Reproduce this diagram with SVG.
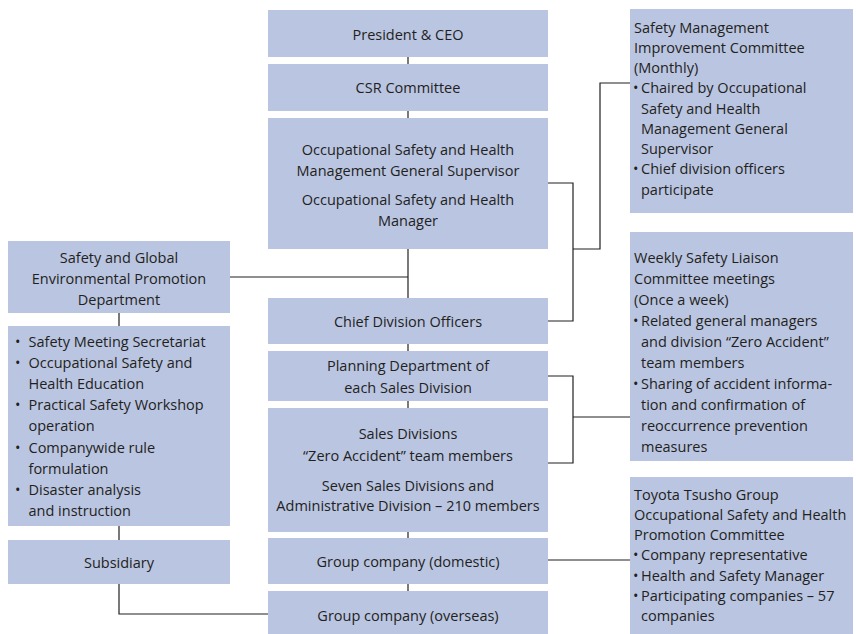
<svg xmlns="http://www.w3.org/2000/svg" width="856" height="634" viewBox="0 0 856 634">
<style>
.box{fill:#bac5e2}
text{font-family:"Open Sans","Noto Sans","Liberation Sans",sans-serif;font-size:14.5px;fill:#231f20}
.c{text-anchor:middle}
.ln{fill:none;stroke:#231f20;stroke-width:1.2}
</style>
<rect width="856" height="634" fill="#ffffff"/>
<g id="connectors">
<path class="ln" d="M408,57 V591"/>
<path class="ln" d="M230,277 H408"/>
<path class="ln" d="M119,313 V614 H268"/>
<path class="ln" d="M548,183 H573 V321 H548 M573,249 H600 V83 H630"/>
<path class="ln" d="M548,376 H573 V463 H548 M573,417 H630"/>
<path class="ln" d="M548,560 H630"/>
</g>
<g id="president">
<rect class="box" x="268" y="10" width="280" height="47"/>
<text class="c" x="408" y="40">President &amp; CEO</text>
</g>
<g id="csr">
<rect class="box" x="268" y="64" width="280" height="47"/>
<text class="c" x="408" y="93">CSR Committee</text>
</g>
<g id="osh">
<rect class="box" x="268" y="118" width="280" height="131"/>
<text class="c" x="408" y="155">Occupational Safety and Health</text>
<text class="c" x="408" y="175.5">Management General Supervisor</text>
<text class="c" x="408" y="205">Occupational Safety and Health</text>
<text class="c" x="408" y="225.5">Manager</text>
</g>
<g id="chief">
<rect class="box" x="268" y="298" width="280" height="46"/>
<text class="c" x="408" y="327">Chief Division Officers</text>
</g>
<g id="planning">
<rect class="box" x="268" y="351" width="280" height="50"/>
<text class="c" x="408" y="371">Planning Department of</text>
<text class="c" x="408" y="393">each Sales Division</text>
</g>
<g id="sales">
<rect class="box" x="268" y="408" width="280" height="124"/>
<text class="c" x="408" y="439">Sales Divisions</text>
<text class="c" x="408" y="461">“Zero Accident” team members</text>
<text class="c" x="408" y="490.5">Seven Sales Divisions and</text>
<text class="c" x="408" y="511">Administrative Division – 210 members</text>
</g>
<g id="group-domestic">
<rect class="box" x="268" y="538" width="280" height="46"/>
<text class="c" x="408" y="567">Group company (domestic)</text>
</g>
<g id="group-overseas">
<rect class="box" x="268" y="591" width="280" height="43"/>
<text class="c" x="408" y="621">Group company (overseas)</text>
</g>
<g id="safety-dept">
<rect class="box" x="8" y="241" width="222" height="72"/>
<text class="c" x="119" y="263">Safety and Global</text>
<text class="c" x="119" y="284">Environmental Promotion</text>
<text class="c" x="119" y="305">Department</text>
</g>
<g id="dept-tasks">
<rect class="box" x="8" y="326" width="222" height="200"/>
<text x="15" y="347">•<tspan x="28.5">Safety Meeting Secretariat</tspan></text>
<text x="15" y="368">•<tspan x="28.5">Occupational Safety and</tspan></text>
<text x="28.5" y="389">Health Education</text>
<text x="15" y="410">•<tspan x="28.5">Practical Safety Workshop</tspan></text>
<text x="28.5" y="431">operation</text>
<text x="15" y="452.5">•<tspan x="28.5">Companywide rule</tspan></text>
<text x="28.5" y="474">formulation</text>
<text x="15" y="495">•<tspan x="28.5">Disaster analysis</tspan></text>
<text x="28.5" y="516">and instruction</text>
</g>
<g id="subsidiary">
<rect class="box" x="8" y="540" width="222" height="44"/>
<text class="c" x="119" y="568">Subsidiary</text>
</g>
<g id="improvement-committee">
<rect class="box" x="630" y="9" width="223" height="204"/>
<text x="634" y="32.5">Safety Management</text>
<text x="634" y="52.8">Improvement Committee</text>
<text x="634" y="73">(Monthly)</text>
<text x="633" y="93.3">•<tspan x="641">Chaired by Occupational</tspan></text>
<text x="641" y="113.5">Safety and Health</text>
<text x="641" y="133.8">Management General</text>
<text x="641" y="154">Supervisor</text>
<text x="633" y="174.3">•<tspan x="641">Chief division officers</tspan></text>
<text x="641" y="194.5">participate</text>
</g>
<g id="weekly-committee">
<rect class="box" x="630" y="232" width="223" height="229"/>
<text x="634" y="262.5">Weekly Safety Liaison</text>
<text x="634" y="283.5">Committee meetings</text>
<text x="634" y="304.5">(Once a week)</text>
<text x="633" y="325.5">•<tspan x="641">Related general managers</tspan></text>
<text x="641" y="346.5">and division “Zero Accident”</text>
<text x="641" y="367.5">team members</text>
<text x="633" y="388.5">•<tspan x="641">Sharing of accident informa-</tspan></text>
<text x="641" y="409.5">tion and confirmation of</text>
<text x="641" y="430.5">reoccurrence prevention</text>
<text x="641" y="451.5">measures</text>
</g>
<g id="group-committee">
<rect class="box" x="630" y="477" width="223" height="157"/>
<text x="634" y="499.5">Toyota Tsusho Group</text>
<text x="634" y="519.5">Occupational Safety and Health</text>
<text x="634" y="540">Promotion Committee</text>
<text x="633" y="560">•<tspan x="641">Company representative</tspan></text>
<text x="633" y="580.5">•<tspan x="641">Health and Safety Manager</tspan></text>
<text x="633" y="601">•<tspan x="641">Participating companies – 57</tspan></text>
<text x="641" y="621">companies</text>
</g>
</svg>
